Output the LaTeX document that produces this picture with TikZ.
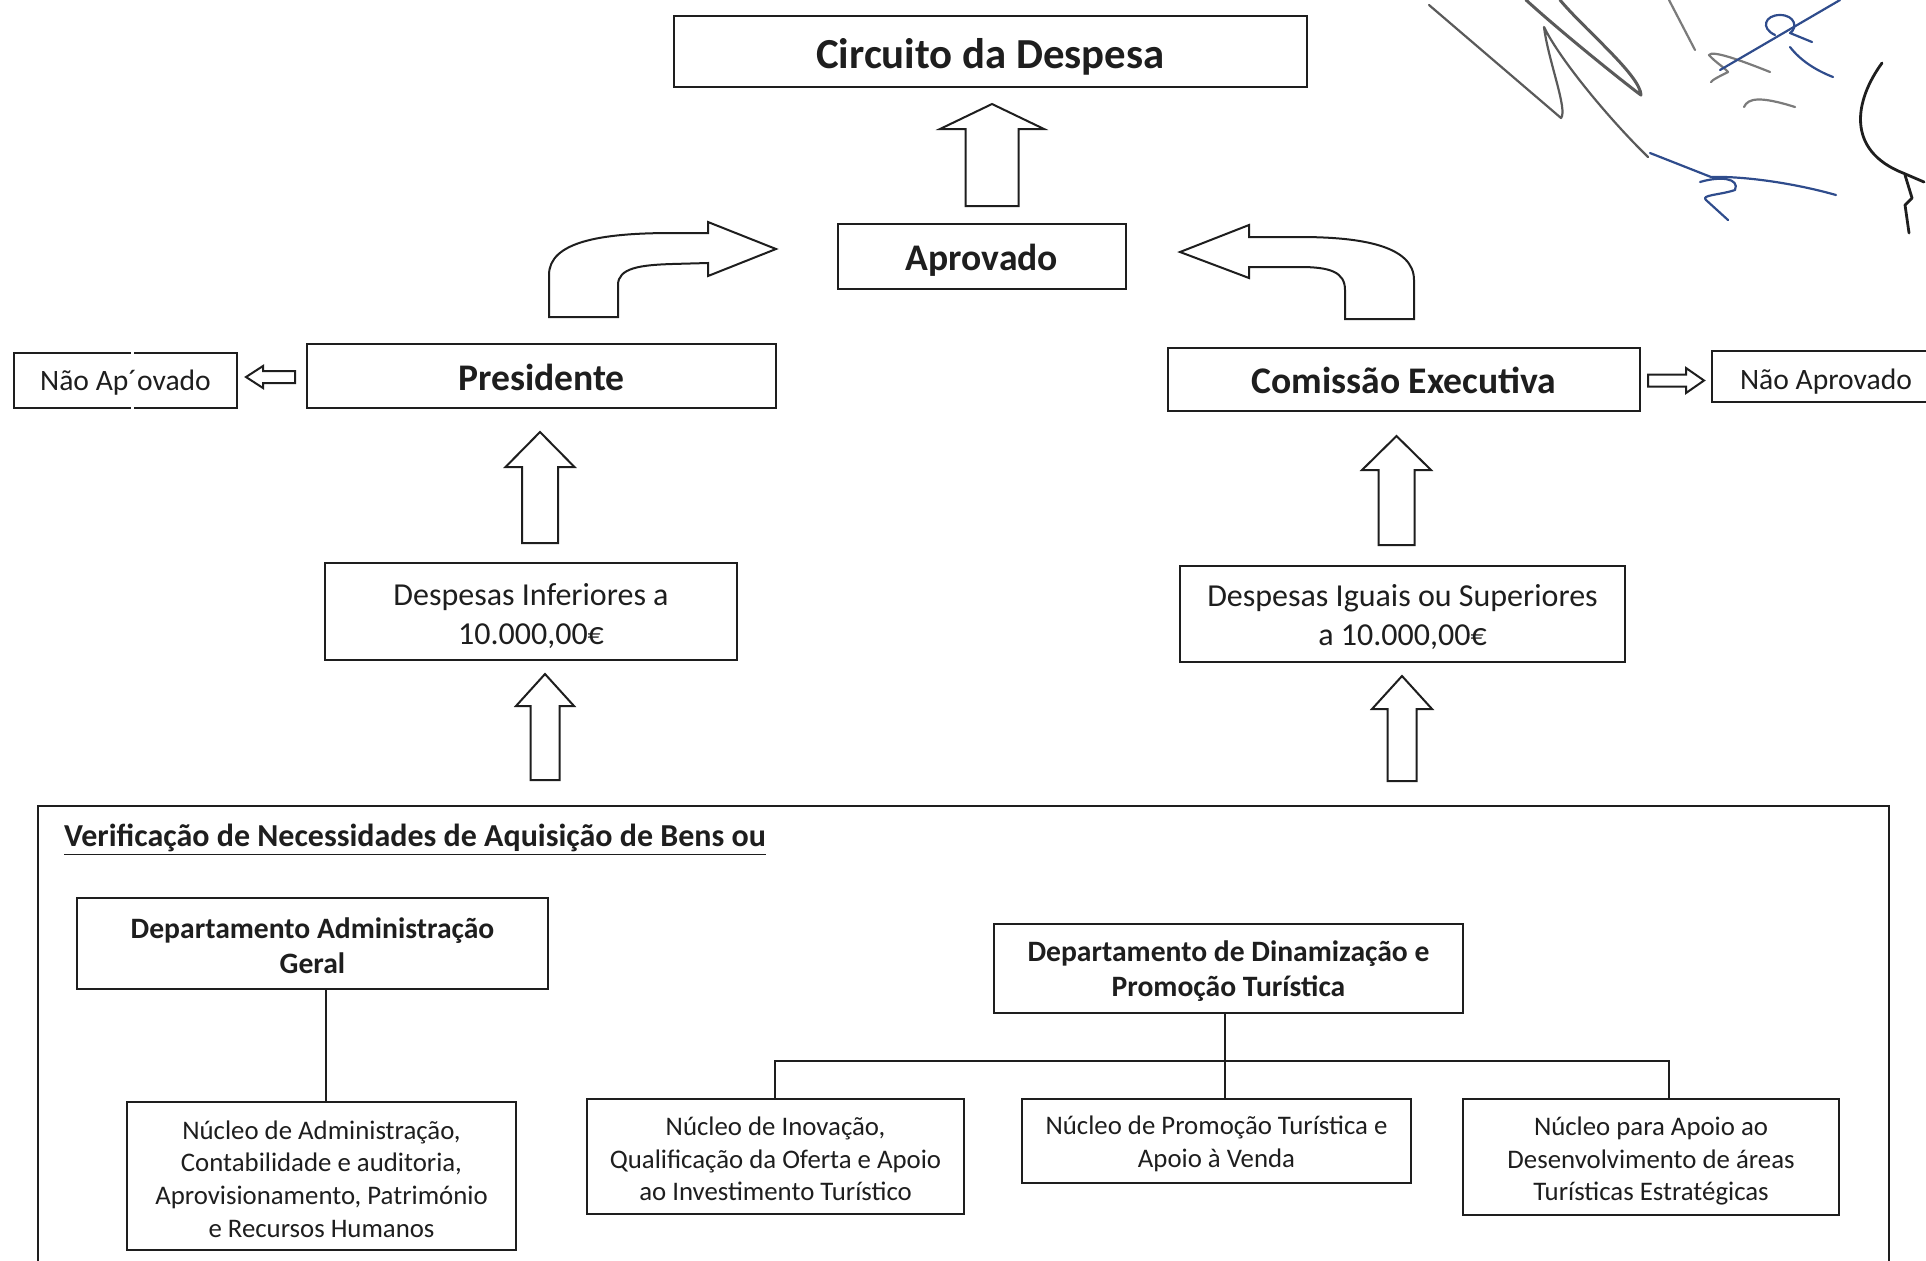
\documentclass[tikz,border=0pt]{standalone}
\usepackage{fontspec}
\setmainfont{Carlito}
\definecolor{ink}{HTML}{1E1E1E}
\definecolor{sgray}{HTML}{5A5A5A}
\definecolor{sblue}{HTML}{2F4C8C}
\tikzset{
  box/.style={draw=ink, line width=1.2pt, fill=white, inner sep=0pt},
  lbl/.style={align=center, text=ink, inner sep=0pt},
  blockarr/.style={draw=ink, line width=1pt, fill=white, line join=miter},
  tree/.style={draw=ink, line width=0.8pt},
  sig/.style={line width=1.1pt, line cap=round, line join=round},
  nucleo/.style={lbl, font=\fontsize{13.4}{16.3}\selectfont},
  dept/.style={lbl, font=\fontsize{14.8}{17.8}\selectfont\bfseries},
  bigb/.style={lbl, font=\fontsize{18.8}{22}\selectfont\bfseries},
  small/.style={lbl, font=\fontsize{14.8}{17}\selectfont},
  desp/.style={lbl, font=\fontsize{16}{19.6}\selectfont},
}
\newcommand\blockUp[6]{% cx, top, base, bottom, headhalf, shafthalf
  \draw[blockarr] ({#1-#6},#4) -- ({#1-#6},#3) -- ({#1-#5},#3) -- (#1,#2)
    -- ({#1+#5},#3) -- ({#1+#6},#3) -- ({#1+#6},#4) -- cycle;}
\begin{document}
\begin{tikzpicture}[x=0.5pt,y=-0.5pt]
\useasboundingbox (0,0) rectangle (1926,1260);
\begin{scope}
\clip (0,0) rectangle (1926,1260);
% big frame
\draw[ink, line width=1.4pt] (38,1300) -- (38,806) -- (1889,806) -- (1889,1300);
\node[anchor=west, text=ink, font=\fontsize{16}{19}\selectfont\bfseries] (verif) at (57,840)
  {\underline{Verificação de Necessidades de Aquisição de Bens ou}};

% top boxes
\node[box, minimum width=316.5pt, minimum height=35.5pt,
  label={[lbl, font=\fontsize{21.4}{25}\selectfont\bfseries, yshift=-2.5pt]center:Circuito da Despesa}] (circ) at (990.5,51.5) {};
\node[box, minimum width=144pt, minimum height=32.5pt,
  label={[bigb, yshift=-1.8pt]center:Aprovado}] (aprov) at (982,256.5) {};
\node[box, minimum width=234.5pt, minimum height=32pt,
  label={[bigb, yshift=-0.9pt]center:Presidente}] (pres) at (541.5,376) {};
\node[box, minimum width=236pt, minimum height=31.5pt,
  label={[bigb, yshift=-0.6pt]center:Comissão Executiva}] (comis) at (1404,379.5) {};
\node[box, minimum width=111.5pt, minimum height=27.5pt,
  label={[small, yshift=-1.2pt]center:Não Ap´ovado}] (naoL) at (125.5,380.5) {};
\fill[white] (130.5,350) rectangle (134,357);
\fill[white] (130.5,404) rectangle (134,411);
\node[box, minimum width=114pt, minimum height=25.5pt,
  label={[small, yshift=-2.5pt]center:Não Aprovado}] (naoR) at (1826,376.5) {};
\node[box, minimum width=206pt, minimum height=48.5pt,
  label={[desp, yshift=-2.1pt]center:{Despesas Inferiores a\\10.000,00€}}] (inf) at (531,611.5) {};
\node[box, minimum width=222.5pt, minimum height=48pt,
  label={[desp, yshift=-1.5pt]center:{Despesas Iguais ou Superiores\\a 10.000,00€}}] (sup) at (1402.5,614) {};

% bottom boxes
\node[box, minimum width=235.5pt, minimum height=45.5pt,
  label={[dept, yshift=-1.2pt]center:{Departamento Administração\\Geral}}] (dag) at (312.5,943.5) {};
\node[box, minimum width=194.5pt, minimum height=74pt,
  label={[nucleo, yshift=-1.5pt]center:{Núcleo de Administração,\\Contabilidade e auditoria,\\Aprovisionamento, Património\\e Recursos Humanos}}] (nadm) at (321.5,1176) {};
\node[box, minimum width=234.5pt, minimum height=44.5pt,
  label={[dept, yshift=-1.2pt]center:{Departamento de Dinamização e\\Promoção Turística}}] (ddpt) at (1228.5,968.5) {};
\node[box, minimum width=188.5pt, minimum height=57.5pt,
  label={[nucleo, yshift=-1.2pt]center:{Núcleo de Inovação,\\Qualificação da Oferta e Apoio\\ao Investimento Turístico}}] (ninov) at (775.5,1156.5) {};
\node[box, minimum width=194.5pt, minimum height=42pt,
  label={[nucleo, yshift=-1.5pt]center:{Núcleo de Promoção Turística e\\Apoio à Venda}}] (nprom) at (1216.5,1141) {};
\node[box, minimum width=188pt, minimum height=58pt,
  label={[nucleo, yshift=-2.1pt]center:{Núcleo para Apoio ao\\Desenvolvimento de áreas\\Turísticas Estratégicas}}] (napoio) at (1651,1157) {};

% tree connectors
\draw[tree] (dag.south -| 326,0) -- (nadm.north -| 326,0);
\coordinate (jn) at (1225,1061);
\draw[tree] (ddpt.south -| jn) -- (nprom.north -| jn);
\draw[tree, line width=1.4pt] (ninov.north -| 775,0) -- (775,1061) -- (1669,1061) -- (napoio.north -| 1669,0);

% vertical block arrows
\blockUp{992}{104}{129}{206}{52}{26.5}
\blockUp{540}{432}{467}{543}{34.5}{18}
\blockUp{545}{674}{706}{780}{29}{14.5}
\blockUp{1396.5}{436}{470}{545}{34.5}{18}
\blockUp{1402}{676}{709}{781}{30}{14.5}

% small horizontal arrows
\draw[blockarr] (295,371) -- (263,371) -- (263,366) -- (246,377) -- (263,388) -- (263,383) -- (295,383) -- cycle;
\draw[blockarr] (1648,374.5) -- (1686,374.5) -- (1686,368) -- (1704,380.5) -- (1686,393) -- (1686,386.5) -- (1648,386.5) -- cycle;

% curved arrows
\draw[blockarr] (549,317) -- (549,275) .. controls (549,242) and (600,233) .. (672,233) -- (708,233)
  -- (708,222) -- (776,249) -- (708,276) -- (708,263) -- (672,264)
  .. controls (640,265) and (618,268) .. (618,285) -- (618,317) -- cycle;
\draw[blockarr] (1414,319) -- (1414,280) .. controls (1414,246) and (1362,237) .. (1300,237) -- (1249,237)
  -- (1249,225) -- (1180,252) -- (1249,278) -- (1249,267) -- (1300,267)
  .. controls (1330,267) and (1345,272) .. (1345,290) -- (1345,319) -- cycle;

% signature (scribble)
\draw[sig, sgray] (1429,5) -- (1561,118) .. controls (1568,110) and (1548,60) .. (1544,27)
  .. controls (1560,60) and (1610,120) .. (1648,157);
\draw[sig, sgray, line width=1.5pt] (1526,0) .. controls (1570,40) and (1640,95) .. (1641,95)
  .. controls (1640,75) and (1585,30) .. (1560,0);
\draw[sig, sgray!80] (1669,0) -- (1695,50);
\draw[sig, sgray!80] (1770,72) .. controls (1740,60) and (1712,50) .. (1709,55) .. controls (1715,62) and (1725,68) .. (1728,72) .. controls (1720,76) and (1712,80) .. (1711,82);
\draw[sig, sgray!80] (1744,107) .. controls (1748,98) and (1760,96) .. (1795,107);
\draw[sig, sblue] (1650,153) -- (1711,177) .. controls (1740,176) and (1790,182) .. (1836,195);
\draw[sig, sblue] (1700,182) .. controls (1720,176) and (1740,178) .. (1735,190) .. controls (1720,195) and (1700,195) .. (1706,200) -- (1728,220);
\draw[sig, sblue] (1720,70) -- (1840,0);
\draw[sig, sblue] (1775,35) .. controls (1760,28) and (1765,15) .. (1780,15) .. controls (1795,15) and (1798,28) .. (1790,33) -- (1812,42);
\draw[sig, sblue] (1790,47) .. controls (1800,60) and (1815,70) .. (1833,77);
\draw[sig, ink, line width=1.4pt] (1882,63) .. controls (1855,100) and (1845,150) .. (1903,173) -- (1924,182);
\draw[sig, ink, line width=1.4pt] (1905,175) -- (1912,198) -- (1905,205) -- (1909,233);
\end{scope}
\end{tikzpicture}
\end{document}
